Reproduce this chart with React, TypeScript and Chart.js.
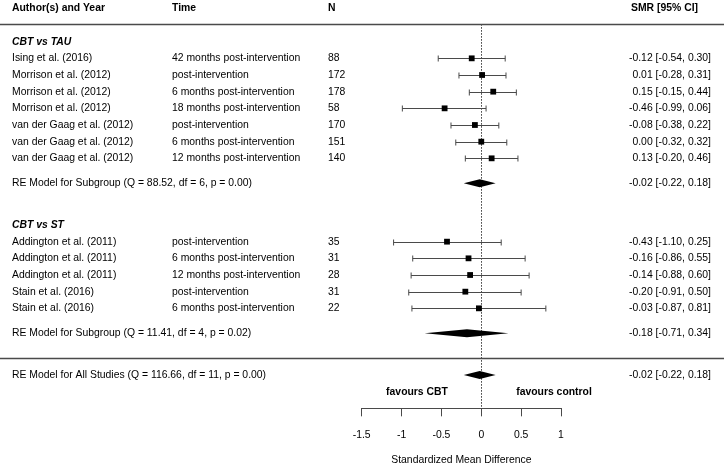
import React, { useEffect, useRef } from 'react';
import { Chart, registerables } from 'chart.js';

Chart.register(...registerables);

// ---------------- data ----------------
const groupNames = ['CBT vs TAU', 'CBT vs ST'];
const groupOf = [0, 0, 0, 0, 0, 0, 0, 1, 1, 1, 1, 1];
const authors = [
  'Ising et al. (2016)',
  'Morrison et al. (2012)',
  'Morrison et al. (2012)',
  'Morrison et al. (2012)',
  'van der Gaag et al. (2012)',
  'van der Gaag et al. (2012)',
  'van der Gaag et al. (2012)',
  'Addington et al. (2011)',
  'Addington et al. (2011)',
  'Addington et al. (2011)',
  'Stain et al. (2016)',
  'Stain et al. (2016)',
];
const times = [
  '42 months post-intervention',
  'post-intervention',
  '6 months post-intervention',
  '18 months post-intervention',
  'post-intervention',
  '6 months post-intervention',
  '12 months post-intervention',
  'post-intervention',
  '6 months post-intervention',
  '12 months post-intervention',
  'post-intervention',
  '6 months post-intervention',
];
const sampleSizes = [88, 172, 178, 58, 170, 151, 140, 35, 31, 28, 31, 22];
const estimates = [-0.12, 0.01, 0.15, -0.46, -0.08, 0.0, 0.13, -0.43, -0.16, -0.14, -0.2, -0.03];
const lowers = [-0.54, -0.28, -0.15, -0.99, -0.38, -0.32, -0.2, -1.1, -0.86, -0.88, -0.91, -0.87];
const uppers = [0.3, 0.31, 0.44, 0.06, 0.22, 0.32, 0.46, 0.25, 0.55, 0.6, 0.5, 0.81];

const subgroupEst = [-0.02, -0.18];
const subgroupLower = [-0.22, -0.71];
const subgroupUpper = [0.18, 0.34];
const subgroupQ = [88.52, 11.41];
const subgroupDf = [6, 4];
const subgroupP = [0.0, 0.02];

const overallEst = -0.02;
const overallLower = -0.22;
const overallUpper = 0.18;
const overallQ = 116.66;
const overallDf = 11;
const overallP = 0.0;

const xTicks = [-1.5, -1, -0.5, 0, 0.5, 1];
const headers = ['Author(s) and Year', 'Time', 'N', 'SMR [95% CI]'];
const favourLabels = ['favours CBT', 'favours control'];
const axisTitle = 'Standardized Mean Difference';

// ---------------- row layout ----------------
const studyRows: number[] = [];
const groupLabelRows: number[] = [];
const summaryRows: number[] = [];
{
  let r = -1;
  groupNames.forEach((_, gi) => {
    groupLabelRows.push(r);
    let last = r;
    groupOf.forEach((g, i) => {
      if (g === gi) {
        last += 1;
        studyRows[i] = last;
      }
    });
    summaryRows.push(last + 1.5);
    r = last + 4;
  });
}
const headerRow = -3;
const topRuleRow = -2.05;
const bottomRuleRow = summaryRows[summaryRows.length - 1] + 1.5;
const overallRow = bottomRuleRow + 1;
const favourRow = overallRow + 1;
const axisRow = favourRow + 1;

const FONT = '"Liberation Sans", Arial, Helvetica, sans-serif';
const FS = 10.4;
const LINE = '#4a4a4a';

const f2 = (v: number) => v.toFixed(2);
const ciText = (e: number, l: number, u: number) => `${f2(e)} [${f2(l)}, ${f2(u)}]`;

const forestPlugin = {
  id: 'forest',
  beforeDatasetsDraw(chart: any) {
    const { ctx } = chart;
    const xs = chart.scales.x;
    const ys = chart.scales.y;
    ctx.save();
    // reference line
    ctx.strokeStyle = '#333';
    ctx.lineWidth = 1;
    ctx.setLineDash([1.5, 1.5]);
    const x0 = Math.round(xs.getPixelForValue(0)) + 0.5;
    ctx.beginPath();
    ctx.moveTo(x0, ys.getPixelForValue(topRuleRow));
    ctx.lineTo(x0, ys.getPixelForValue(axisRow));
    ctx.stroke();
    ctx.setLineDash([]);
    // CIs
    ctx.strokeStyle = LINE;
    ctx.lineWidth = 1;
    estimates.forEach((_, i) => {
      const y = Math.round(ys.getPixelForValue(studyRows[i])) + 0.5;
      const xl = xs.getPixelForValue(lowers[i]);
      const xu = xs.getPixelForValue(uppers[i]);
      ctx.beginPath();
      ctx.moveTo(xl, y);
      ctx.lineTo(xu, y);
      ctx.moveTo(xl, y - 3);
      ctx.lineTo(xl, y + 3);
      ctx.moveTo(xu, y - 3);
      ctx.lineTo(xu, y + 3);
      ctx.stroke();
    });
    ctx.restore();
  },
  afterDatasetsDraw(chart: any) {
    const { ctx, width } = chart;
    const xs = chart.scales.x;
    const ys = chart.scales.y;
    const yp = (r: number) => ys.getPixelForValue(r);
    ctx.save();
    // rules
    ctx.strokeStyle = LINE;
    ctx.lineWidth = 1.4;
    [topRuleRow, bottomRuleRow].forEach((r) => {
      const y = Math.round(yp(r)) + 0.5;
      ctx.beginPath();
      ctx.moveTo(0, y);
      ctx.lineTo(width, y);
      ctx.stroke();
    });
    // diamonds
    const diamond = (e: number, l: number, u: number, r: number) => {
      const y = yp(r);
      ctx.fillStyle = '#000';
      ctx.beginPath();
      ctx.moveTo(xs.getPixelForValue(l), y);
      ctx.lineTo(xs.getPixelForValue(e), y - 4);
      ctx.lineTo(xs.getPixelForValue(u), y);
      ctx.lineTo(xs.getPixelForValue(e), y + 4);
      ctx.closePath();
      ctx.fill();
    };
    subgroupEst.forEach((e, g) => diamond(e, subgroupLower[g], subgroupUpper[g], summaryRows[g]));
    diamond(overallEst, overallLower, overallUpper, overallRow);

    // text
    ctx.fillStyle = '#000';
    ctx.textBaseline = 'middle';
    const text = (s: string, x: number, r: number, align: string, style = '') => {
      ctx.font = `${style}${FS}px ${FONT}`;
      ctx.textAlign = align;
      ctx.fillText(s, x, yp(r));
    };
    const colAuthor = 12;
    const colTime = 172;
    const colN = 328;
    const colCI = 711;
    text(headers[0], colAuthor, headerRow, 'left', 'bold ');
    text(headers[1], colTime, headerRow, 'left', 'bold ');
    text(headers[2], colN, headerRow, 'left', 'bold ');
    text(headers[3], 698, headerRow, 'right', 'bold ');
    groupNames.forEach((g, gi) => {
      text(g, colAuthor, groupLabelRows[gi], 'left', 'italic bold ');
      text(
        `RE Model for Subgroup (Q = ${f2(subgroupQ[gi])}, df = ${subgroupDf[gi]}, p = ${f2(subgroupP[gi])})`,
        colAuthor,
        summaryRows[gi],
        'left'
      );
      text(ciText(subgroupEst[gi], subgroupLower[gi], subgroupUpper[gi]), colCI, summaryRows[gi], 'right');
    });
    authors.forEach((a, i) => {
      const r = studyRows[i];
      text(a, colAuthor, r, 'left');
      text(times[i], colTime, r, 'left');
      text(String(sampleSizes[i]), colN, r, 'left');
      text(ciText(estimates[i], lowers[i], uppers[i]), colCI, r, 'right');
    });
    text(
      `RE Model for All Studies (Q = ${f2(overallQ)}, df = ${overallDf}, p = ${f2(overallP)})`,
      colAuthor,
      overallRow,
      'left'
    );
    text(ciText(overallEst, overallLower, overallUpper), colCI, overallRow, 'right');
    text(favourLabels[0], 417, favourRow, 'center', 'bold ');
    text(favourLabels[1], 554, favourRow, 'center', 'bold ');
    ctx.restore();
  },
};

export default function App() {
  const ref = useRef<HTMLCanvasElement | null>(null);
  useEffect(() => {
    document.body.style.margin = '0';
    document.body.style.overflow = 'hidden';
    const canvas = ref.current!;
    const chart = new Chart(canvas, {
      type: 'scatter',
      data: {
        datasets: [
          {
            data: estimates.map((e, i) => ({ x: e, y: studyRows[i] })),
            pointStyle: 'rect',
            pointRadius: 4.1,
            pointHoverRadius: 4.1,
            backgroundColor: '#000',
            borderColor: '#000',
            borderWidth: 0,
            clip: false,
          } as any,
        ],
      },
      options: {
        responsive: false,
        animation: false,
        devicePixelRatio: 1,
        events: [],
        layout: { autoPadding: false, padding: { left: 361.7, right: 163, top: 0, bottom: 0 } },
        plugins: { legend: { display: false }, tooltip: { enabled: false }, title: { display: false } },
        scales: {
          x: {
            type: 'linear',
            position: 'bottom',
            min: -1.5,
            max: 1,
            afterBuildTicks: (s: any) => {
              s.ticks = xTicks.map((v) => ({ value: v }));
            },
            afterFit: (s: any) => {
              s.height = 59.67;
            },
            grid: {
              display: true,
              drawOnChartArea: false,
              drawTicks: true,
              tickLength: 8,
              color: LINE,
              lineWidth: 1,
            },
            border: { display: true, color: LINE, width: 1 },
            ticks: {
              padding: 13,
              color: '#000',
              maxRotation: 0,
              autoSkip: false,
              font: { family: FONT, size: FS },
              callback: (v: any) => String(v),
            },
            title: {
              display: true,
              text: axisTitle,
              color: '#000',
              padding: { top: 0, bottom: 2 },
              font: { family: FONT, size: FS },
            },
          },
          y: {
            type: 'linear',
            display: false,
            reverse: true,
            min: headerRow - 0.5,
            max: axisRow,
          },
        },
      } as any,
      plugins: [forestPlugin],
    });
    return () => chart.destroy();
  }, []);
  return (
    <div style={{ width: 724, height: 468, background: '#fff' }}>
      <canvas ref={ref} width={724} height={468} style={{ display: 'block' }} />
    </div>
  );
}
